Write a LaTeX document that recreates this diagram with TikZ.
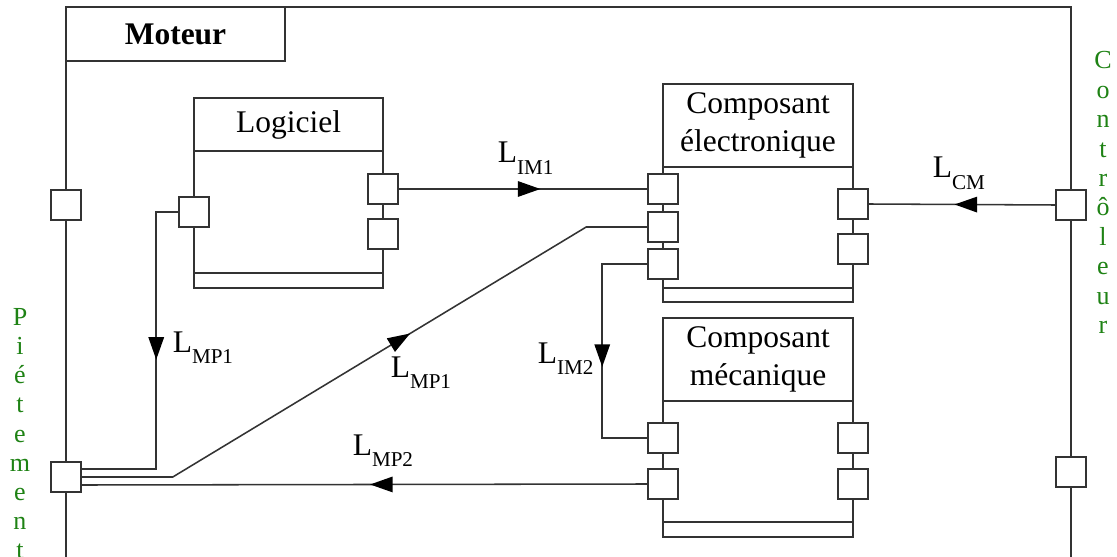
\documentclass[tikz,border=0pt]{standalone}
\usepackage{fontspec}
\setmainfont{Liberation Serif}
\usetikzlibrary{arrows.meta,decorations.markings,calc}
\definecolor{sidegreen}{RGB}{30,130,20}
\newcommand{\flux}[1]{L\raisebox{-8pt}{\fontsize{15}{15}\selectfont #1}}

\begin{document}
\begin{tikzpicture}[x=0.025cm,y=-0.025cm,line width=1.1pt,color=black!80,
  port/.style={draw,fill=white,minimum size=0.75cm,inner sep=0pt},
  title/.style={font=\fontsize{22.4}{26.5}\selectfont,align=center,text=black},
  side/.style={font=\fontsize{18.5}{18}\selectfont,text=sidegreen,anchor=base,inner sep=0pt},
  lab/.style={font=\fontsize{22.4}{26}\selectfont,text=black,anchor=base west,inner sep=0pt},
  arr/.style={postaction={decorate},decoration={markings,
    mark=at position #1 with {\arrow[black]{Triangle[length=16pt,width=11pt]}}}}]
\useasboundingbox (0,0) rectangle (1117,557);

% moteur frame
\draw (66,557) -- (66,7) -- (1071,7) -- (1071,557);
\draw (66,7) rectangle (285,61);
\node[title] (mot) at (175.5,34) {\bfseries Moteur};

% blocks
\draw (194,98) rectangle (383,288);
\draw (194,151) -- (383,151);
\draw (194,273) -- (383,273);
\node[title] (logT) at (288.5,124.5) {Logiciel};

\draw (663,84) rectangle (853,302);
\draw (663,167) -- (853,167);
\draw (663,288) -- (853,288);
\node[title] (elecT) at (758,125.5) {Composant\\électronique};

\draw (663,318) rectangle (853,537);
\draw (663,401) -- (853,401);
\draw (663,522) -- (853,522);
\node[title] (mecaT) at (758,359.5) {Composant\\mécanique};

% ports
\node[port] (fL1) at (66,205) {};
\node[port] (pm) at (66,477) {};
\node[port] (ctr) at (1071,205) {};
\node[port] (fR2) at (1071,472) {};

\node[port] (logL) at (194,212) {};
\node[port] (logR1) at (383,189) {};
\node[port] (logR2) at (383,234) {};

\node[port] (elL1) at (663,189) {};
\node[port] (elL2) at (663,227) {};
\node[port] (elL3) at (663,264) {};
\node[port] (elR1) at (853,204) {};
\node[port] (elR2) at (853,249) {};

\node[port] (meL1) at (663,438) {};
\node[port] (meL2) at (663,484) {};
\node[port] (meR1) at (853,438) {};
\node[port] (meR2) at (853,484) {};

% flux
\draw[arr=0.57] (logR1.east) -- (elL1.west);
\draw[arr=0.54] (ctr.west) -- (elR1.east);
\draw[arr=0.48] (logL.west) -- ++(-22,0) |- ([yshift=0.2cm]pm.east);
\draw[arr=0.58] (pm.east) -- ++(91,0) -- ($(elL2.west)+(-61,0)$) -- (elL2.west);
\draw[arr=0.56] (elL3.west) -- ++(-45,0) |- (meL1.west);
\draw[arr=0.49] (meL2.west) -- ([yshift=-0.2cm]pm.east);

\node[lab] (lIM1) at (497,163) {\flux{IM1}};
\node[lab] (lCM) at (932,178) {\flux{CM}};
\node[lab] (lMPa) at (172,352) {\flux{MP1}};
\node[lab] (lMPb) at (390,377) {\flux{MP1}};
\node[lab] (lIM2) at (537,363) {\flux{IM2}};
\node[lab] (lMP2) at (352,455) {\flux{MP2}};

% side labels
\foreach \c [count=\i] in {P,i,é,t,e,m,e,n,t}
  \node[side] (pie\i) at (20,296+29.2*\i) {\c};
\foreach \c [count=\i] in {C,o,n,t,r,ô,l,e,u,r}
  \node[side] (con\i) at (1103,39.5+29.4*\i) {\c};
\end{tikzpicture}
\end{document}
